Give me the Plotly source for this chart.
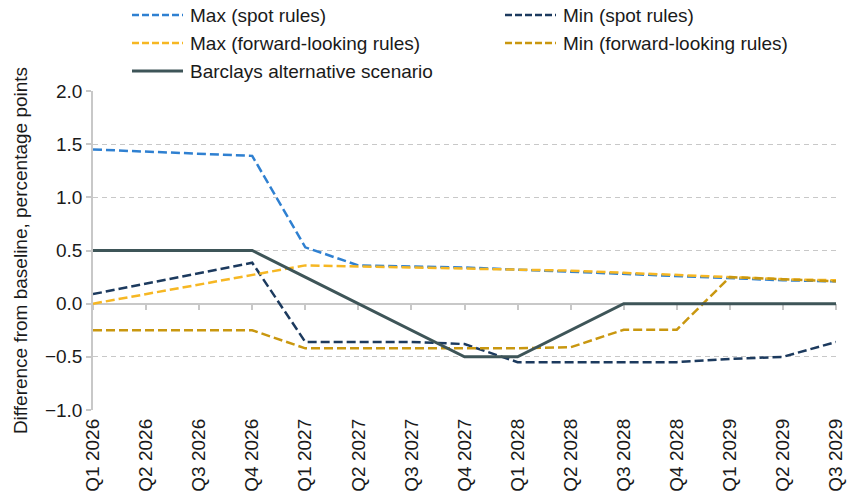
import plotly.graph_objects as go

categories = ["Q1 2026", "Q2 2026", "Q3 2026", "Q4 2026", "Q1 2027", "Q2 2027", "Q3 2027",
              "Q4 2027", "Q1 2028", "Q2 2028", "Q3 2028", "Q4 2028", "Q1 2029", "Q2 2029", "Q3 2029"]

max_spot = [1.45, 1.43, 1.41, 1.39, 0.53, 0.36, 0.35, 0.34, 0.32, 0.30, 0.28, 0.26, 0.24, 0.22, 0.21]
min_spot = [0.09, 0.19, 0.29, 0.385, -0.36, -0.36, -0.36, -0.38, -0.55, -0.55, -0.55, -0.55, -0.52, -0.50, -0.36]
max_fwd = [0.0, 0.09, 0.18, 0.27, 0.36, 0.35, 0.34, 0.33, 0.32, 0.31, 0.29, 0.27, 0.25, 0.23, 0.22]
min_fwd = [-0.25, -0.25, -0.25, -0.25, -0.42, -0.42, -0.42, -0.42, -0.42, -0.41, -0.245, -0.245, 0.25, 0.23, 0.21]
barclays = [0.5, 0.5, 0.5, 0.5, 0.25, 0.0, -0.25, -0.5, -0.5, -0.25, 0.0, 0.0, 0.0, 0.0, 0.0]

series = [
    ("Max (spot rules)", max_spot, "#2F80D1", "dashed"),
    ("Min (spot rules)", min_spot, "#1C3A5E", "dashed"),
    ("Max (forward-looking rules)", max_fwd, "#F6B723", "dashed"),
    ("Min (forward-looking rules)", min_fwd, "#C9970F", "dashed"),
    ("Barclays alternative scenario", barclays, "#3E5558", "solid"),
]

FONT = "Liberation Sans, Arial, sans-serif"
FS = 19
TXT = "#1a1a1a"
AX = "#c8c8c8"
DASH = "9px,4px"

xi = list(range(len(categories)))
fig = go.Figure()
for name, vals, color, style in series:
    fig.add_trace(go.Scatter(
        x=xi, y=vals, mode="lines", name=name,
        line=dict(color=color, width=3 if style == "solid" else 2.5,
                  dash=None if style == "solid" else DASH),
        xaxis="x2" if style == "solid" else "x",
        showlegend=False, hoverinfo="skip"))

# manual legend (pixel offsets from plot top-left)
legend_pos = [(39, 76), (412, 76), (39, 48), (412, 48), (39, 20)]
shapes = []
annotations = []
for (name, vals, color, style), (px, py) in zip(series, legend_pos):
    shapes.append(dict(type="line", xref="paper", yref="paper",
                       xsizemode="pixel", ysizemode="pixel", xanchor=0, yanchor=1,
                       x0=px, x1=px + 51, y0=py, y1=py,
                       line=dict(color=color, width=3 if style == "solid" else 2.5,
                                 dash=None if style == "solid" else "7px,3px")))
    annotations.append(dict(text=name, xref="paper", yref="paper", x=0, y=1,
                            xshift=px + 56, yshift=py, xanchor="left", yanchor="middle",
                            showarrow=False, font=dict(family=FONT, size=FS, color=TXT)))

fig.update_layout(
    width=848, height=501,
    margin=dict(l=93, r=12, t=91, b=91),
    paper_bgcolor="white", plot_bgcolor="white",
    font=dict(family=FONT, size=FS, color=TXT),
    shapes=shapes, annotations=annotations,
    xaxis=dict(range=[0, len(categories) - 1], tickvals=xi, ticktext=categories,
               tickangle=-90, showline=False, ticks="", showgrid=False, zeroline=False,
               tickfont=dict(family=FONT, size=FS, color=TXT), ticklabelstandoff=4,
               automargin=False),
    xaxis2=dict(range=[0, len(categories) - 1], overlaying="x", anchor="free", position=1/3,
                tickvals=xi, showticklabels=False, ticks="outside", ticklen=6, tickwidth=1.5,
                tickcolor=AX, showline=True, linecolor=AX, linewidth=1.5, showgrid=False,
                zeroline=False, layer="below traces"),
    yaxis=dict(range=[-1, 2], dtick=0.5, tick0=0, tickformat=".1f",
               showline=True, linecolor=AX, linewidth=1.5, ticks="outside", ticklen=5,
               tickcolor=AX, tickwidth=1.5, showgrid=True, gridcolor=AX, gridwidth=1,
               griddash="5px,4px", zeroline=False, automargin=False,
               title=dict(text="Difference from baseline, percentage points",
                          font=dict(family=FONT, size=FS, color=TXT), standoff=12),
               tickfont=dict(family=FONT, size=FS, color=TXT)),
)

fig.write_html("out.html")
